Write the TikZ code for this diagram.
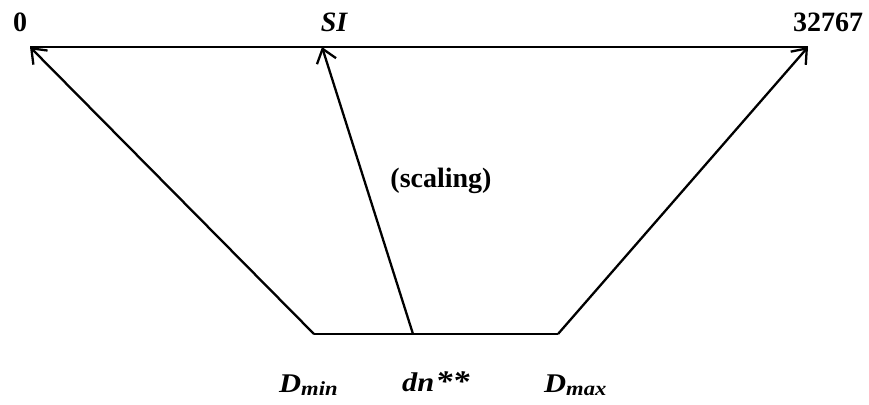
\documentclass[tikz,border=0pt]{standalone}
\usepackage{fontspec}
\setmainfont{Liberation Serif}
\usetikzlibrary{arrows.meta}
\newcommand{\lowsub}[1]{\raisebox{-3.5pt}{\fontsize{20}{21}\selectfont #1}}
\newcommand{\widen}[1]{\scalebox{1.13}[1]{#1}}
\begin{document}
\begin{tikzpicture}[x=1pt,y=-1pt,
  ln/.style={line width=2.3pt},
  arr/.style={ln,-{Straight Barb[length=13pt,width=20pt,line width=2.3pt]}},
  lbl/.style={font=\fontsize{28}{30}\selectfont\bfseries, inner sep=0pt},
  ilbl/.style={font=\fontsize{28}{30}\selectfont\bfseries\itshape, inner sep=0pt},
  blbl/.style={font=\fontsize{27}{29}\selectfont\bfseries\itshape, inner sep=0pt, anchor=base west}]
\useasboundingbox (0,0) rectangle (869,404);
\coordinate (tl) at (30,47);
\coordinate (tsi) at (322,47);
\coordinate (tr) at (808,47);
\coordinate (bl) at (314,334);
\coordinate (bdn) at (413,334);
\coordinate (br) at (558,334);
\draw[ln] (tl) -- (tr);
\draw[ln] (bl) -- (br);
\draw[arr] (bl) -- (tl);
\draw[arr] (bdn) -- (tsi);
\draw[arr] (br) -- (tr);
\node[lbl] (l0) at (20,22) {0};
\node[ilbl] (lsi) at (334,22) {SI};
\node[lbl] (lmax) at (828,22) {32767};
\node[lbl] (lsc) at (441,181) {(scaling)};
\node[blbl] (ldmin) at (279,392) {\widen{D\lowsub{min}}};
\node[blbl] (ldn) at (402,391) {\widen{dn\kern1pt{\fontsize{30}{30}\selectfont**}}};
\node[blbl] (ldmax) at (544,392) {\widen{D\lowsub{max}}};
\end{tikzpicture}
\end{document}
